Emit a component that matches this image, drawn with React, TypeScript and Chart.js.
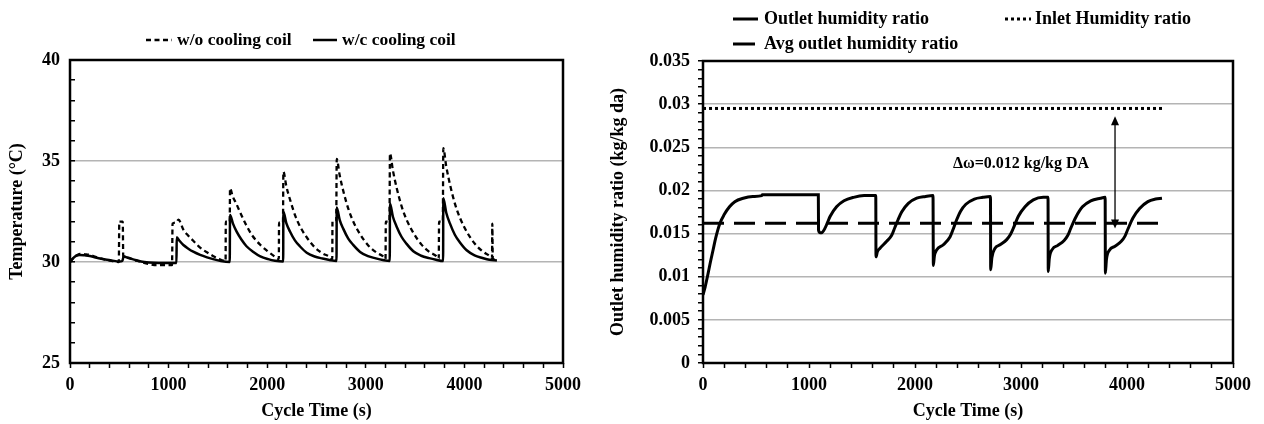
import React, { useEffect, useRef } from 'react';
import { Chart, registerables } from 'chart.js';

Chart.register(...registerables);

const FONT = "'Liberation Serif', 'Times New Roman', serif";
const GRID = '#b4b4b4';

// ---------- Left chart: temperature ----------
const woTime = [
  0, 25, 60, 100, 150, 200, 260, 330, 420, 495, 500, 535, 540, 580, 650, 720, 800, 880, 960, 1035,
  1040, 1075, 1100, 1150, 1200, 1250, 1300, 1350, 1400, 1450, 1500, 1578,
  1580, 1620, 1623, 1650, 1690, 1740, 1790, 1850, 1930, 2000, 2060, 2118,
  2120, 2160, 2164, 2194, 2234, 2284, 2334, 2404, 2484, 2564, 2634, 2660,
  2662, 2700, 2705, 2735, 2775, 2825, 2875, 2945, 3025, 3105, 3175, 3200,
  3203, 3240, 3245, 3275, 3315, 3365, 3415, 3485, 3565, 3645, 3715, 3740,
  3743, 3781, 3786, 3816, 3856, 3906, 3956, 4026, 4106, 4186, 4256, 4280,
  4283, 4288, 4327,
];
const woTemp = [
  30.0, 30.15, 30.3, 30.4, 30.38, 30.35, 30.25, 30.15, 30.05, 30.0, 32.0, 32.0, 30.25, 30.2, 30.1, 30.0, 29.9, 29.85, 29.85, 29.85,
  31.9, 31.95, 32.1, 31.6, 31.3, 31.05, 30.8, 30.6, 30.45, 30.3, 30.18, 30.05,
  32.0, 32.0, 33.65, 33.25, 32.85, 32.3, 31.8, 31.3, 30.85, 30.55, 30.33, 30.15,
  31.95, 31.95, 34.47, 33.75, 33.05, 32.3, 31.75, 31.2, 30.72, 30.42, 30.26, 30.15,
  32.0, 32.0, 35.1, 34.3, 33.45, 32.6, 31.98, 31.35, 30.82, 30.48, 30.28, 30.15,
  32.0, 32.0, 35.38, 34.53, 33.63, 32.73, 32.08, 31.42, 30.86, 30.5, 30.29, 30.15,
  32.0, 32.0, 35.63, 34.73, 33.79, 32.85, 32.17, 31.48, 30.9, 30.52, 30.3, 30.18,
  31.9, 30.18, 30.1,
];
const wcTime = [
  0, 25, 60, 100, 150, 200, 260, 330, 420, 500, 530, 545, 580, 650, 720, 800, 900, 1000, 1080,
  1082, 1110, 1150, 1200, 1250, 1320, 1390, 1460, 1530, 1620,
  1623, 1653, 1690, 1740, 1790, 1860, 1930, 2010, 2080, 2162,
  2164, 2194, 2231, 2281, 2331, 2401, 2481, 2561, 2631, 2703,
  2705, 2735, 2772, 2822, 2872, 2942, 3022, 3102, 3172, 3243,
  3245, 3275, 3312, 3362, 3412, 3482, 3562, 3642, 3712, 3784,
  3786, 3816, 3853, 3903, 3953, 4023, 4103, 4183, 4253, 4330,
];
const wcTemp = [
  30.0, 30.15, 30.3, 30.35, 30.33, 30.3, 30.22, 30.15, 30.08, 30.02, 30.05, 30.28, 30.22, 30.12, 30.02, 29.97, 29.95, 29.95, 29.95,
  31.22, 31.05, 30.84, 30.66, 30.51, 30.35, 30.23, 30.13, 30.05, 30.0,
  32.33, 31.9, 31.5, 31.1, 30.78, 30.5, 30.28, 30.14, 30.06, 30.02,
  32.49, 31.93, 31.51, 31.07, 30.78, 30.46, 30.27, 30.17, 30.1, 30.05,
  32.7, 32.09, 31.64, 31.16, 30.85, 30.5, 30.29, 30.18, 30.1, 30.05,
  32.9, 32.24, 31.76, 31.25, 30.91, 30.53, 30.31, 30.19, 30.11, 30.05,
  33.15, 32.44, 31.91, 31.35, 30.98, 30.58, 30.33, 30.2, 30.11, 30.08,
];
const tempLabels = ['25', '30', '35', '40'];

// ---------- Right chart: humidity ratio ----------
const outTime = [
  0, 20, 45, 70, 95, 120, 160, 200, 250, 300, 380, 470, 555, 560, 1088,
  1090, 1105, 1120, 1150, 1175, 1200, 1260, 1330, 1420, 1520, 1630,
  1632, 1645, 1670, 1733, 1780, 1810, 1840, 1874, 1937, 2016, 2100, 2170,
  2173, 2183, 2204, 2267, 2330, 2360, 2393, 2430, 2480, 2560, 2640, 2712,
  2714, 2725, 2755, 2802, 2865, 2900, 2927, 2975, 3038, 3116, 3210, 3255,
  3257, 3267, 3297, 3344, 3407, 3442, 3469, 3517, 3580, 3658, 3750, 3794,
  3796, 3806, 3836, 3883, 3946, 3981, 4008, 4056, 4119, 4197, 4270, 4330,
];
const outVal = [
  0.0079, 0.0088, 0.0102, 0.0117, 0.0131, 0.0145, 0.0162, 0.0172, 0.0181, 0.0187, 0.0191, 0.0193, 0.0194, 0.0195, 0.0195,
  0.0154, 0.0151, 0.0151, 0.0156, 0.0163, 0.0170, 0.0181, 0.0188, 0.0192, 0.0194, 0.0194,
  0.0123, 0.0129, 0.0133, 0.0141, 0.0148, 0.0157, 0.0166, 0.0175, 0.0185, 0.0191, 0.0193, 0.0194,
  0.0113, 0.0124, 0.0131, 0.0137, 0.0146, 0.0155, 0.0166, 0.0176, 0.0184, 0.0190, 0.0192, 0.0193,
  0.0108, 0.0122, 0.0133, 0.0137, 0.0143, 0.0149, 0.0156, 0.0170, 0.0181, 0.0189, 0.0192, 0.0192,
  0.0106, 0.0121, 0.0132, 0.0136, 0.0142, 0.0148, 0.0156, 0.0169, 0.0181, 0.0188, 0.0191, 0.0192,
  0.0104, 0.0120, 0.0131, 0.0135, 0.0141, 0.0147, 0.0155, 0.0168, 0.0179, 0.0187, 0.0190, 0.0191,
];
const inletTime = [0, 4330];
const inletVal = [0.0295, 0.0295];
const avgTime = [0, 4330];
const avgVal = [0.0162, 0.0162];
const arrowTime = 3887;
const arrowTop = 0.0286;
const arrowBottom = 0.0156;
const deltaText = 'Δω=0.012 kg/kg DA';
const deltaTime = 3000;
const deltaVal = 0.0231;
const timeLabels = ['0', '1000', '2000', '3000', '4000', '5000'];

const pts = (xs: number[], ys: number[]) => xs.map((x, i) => ({ x, y: ys[i] }));

const tickFont = { family: FONT, size: 18, weight: 'bold' as const };
const titleFont = { family: FONT, size: 18, weight: 'bold' as const };

const framePlugin = {
  id: 'frame',
  afterDraw(chart: any) {
    const { ctx, chartArea: a } = chart;
    ctx.save();
    ctx.strokeStyle = '#000';
    ctx.lineWidth = 2.5;
    ctx.strokeRect(a.left, a.top, a.right - a.left, a.bottom - a.top);
    ctx.restore();
  },
};

type LegendItem = { x1: number; x2: number; y: number; dash: number[]; width: number; text: string; tx: number; size: number };

const makeLegend = (items: LegendItem[]) => ({
  id: 'manualLegend',
  afterDraw(chart: any) {
    const ctx = chart.ctx;
    ctx.save();
    items.forEach((it) => {
      ctx.beginPath();
      ctx.setLineDash(it.dash);
      ctx.lineWidth = it.width;
      ctx.strokeStyle = '#000';
      ctx.moveTo(it.x1, it.y);
      ctx.lineTo(it.x2, it.y);
      ctx.stroke();
      ctx.setLineDash([]);
      ctx.fillStyle = '#000';
      ctx.font = `bold ${it.size}px ${FONT}`;
      ctx.textAlign = 'left';
      ctx.textBaseline = 'middle';
      ctx.fillText(it.text, it.tx, it.y);
    });
    ctx.restore();
  },
});

const arrowPlugin = {
  id: 'arrowNote',
  afterDatasetsDraw(chart: any) {
    const { ctx, scales } = chart;
    const x = scales.x.getPixelForValue(arrowTime);
    const yt = scales.y.getPixelForValue(arrowTop);
    const yb = scales.y.getPixelForValue(arrowBottom);
    ctx.save();
    ctx.strokeStyle = '#000';
    ctx.fillStyle = '#000';
    ctx.lineWidth = 1.3;
    ctx.beginPath();
    ctx.moveTo(x, yt + 6);
    ctx.lineTo(x, yb - 6);
    ctx.stroke();
    ctx.beginPath();
    ctx.moveTo(x, yt);
    ctx.lineTo(x - 4, yt + 9);
    ctx.lineTo(x + 4, yt + 9);
    ctx.closePath();
    ctx.fill();
    ctx.beginPath();
    ctx.moveTo(x, yb);
    ctx.lineTo(x - 4, yb - 9);
    ctx.lineTo(x + 4, yb - 9);
    ctx.closePath();
    ctx.fill();
    ctx.font = `bold 16px ${FONT}`;
    ctx.textAlign = 'center';
    ctx.textBaseline = 'middle';
    ctx.fillText(deltaText, scales.x.getPixelForValue(deltaTime), scales.y.getPixelForValue(deltaVal));
    ctx.restore();
  },
};

const xScale = (heightPx: number) => ({
  type: 'linear' as const,
  min: 0,
  max: 5000,
  ticks: {
    stepSize: 200,
    autoSkip: false,
    maxRotation: 0,
    minRotation: 0,
    maxTicksLimit: 100,
    padding: 7,
    color: '#000',
    font: tickFont,
    callback: (v: any) => {
      const s = String(Math.round(Number(v)));
      return timeLabels.includes(s) ? s : '';
    },
  },
  grid: { color: 'rgba(0,0,0,0)', drawTicks: true, tickLength: 5, tickColor: '#000', tickWidth: 1.5 },
  border: { display: false },
  title: { display: true, text: 'Cycle Time (s)', color: '#000', font: titleFont, padding: { top: 0, bottom: 2 } },
  afterFit: (s: any) => {
    s.height = heightPx;
    s.paddingLeft = 0;
    s.paddingRight = 0;
  },
});

function TempChart() {
  const ref = useRef<HTMLCanvasElement>(null);
  useEffect(() => {
    if (!ref.current) return;
    const chart = new Chart(ref.current, {
      type: 'line',
      data: {
        datasets: [
          {
            label: 'w/o cooling coil',
            data: pts(woTime, woTemp),
            borderColor: '#000',
            borderWidth: 2.3,
            borderDash: [5, 3.5],
            pointRadius: 0,
            fill: false,
            cubicInterpolationMode: 'monotone',
          },
          {
            label: 'w/c cooling coil',
            data: pts(wcTime, wcTemp),
            borderColor: '#000',
            borderWidth: 2.5,
            pointRadius: 0,
            fill: false,
            cubicInterpolationMode: 'monotone',
          },
        ],
      },
      options: {
        responsive: false,
        maintainAspectRatio: false,
        animation: false,
        devicePixelRatio: 1,
        layout: { padding: { left: 0, right: 37, top: 60, bottom: 0 } },
        plugins: { legend: { display: false }, tooltip: { enabled: false } },
        scales: {
          x: xScale(61),
          y: {
            type: 'linear',
            min: 25,
            max: 40,
            ticks: {
              stepSize: 1,
              autoSkip: false,
              maxTicksLimit: 100,
              padding: 15,
              color: '#000',
              font: tickFont,
              callback: (v: any) => {
                const s = String(Math.round(Number(v)));
                return tempLabels.includes(s) ? s : '';
              },
            },
            grid: {
              color: (c: any) =>
                c.tick && (Math.round(c.tick.value) === 30 || Math.round(c.tick.value) === 35) ? GRID : 'rgba(0,0,0,0)',
              lineWidth: 1.5,
              drawTicks: true,
              tickLength: -5,
              tickColor: '#000',
              tickWidth: 1.5,
            },
            border: { display: false },
            title: { display: true, text: 'Temperature (°C)', color: '#000', font: titleFont, padding: { top: 7, bottom: 0 } },
            afterFit: (s: any) => {
              s.width = 70;
              s.paddingTop = 0;
              s.paddingBottom = 0;
            },
          },
        },
      } as any,
      plugins: [
        framePlugin,
        makeLegend([
          { x1: 146, x2: 172, y: 40, dash: [5, 3.5], width: 2.5, text: 'w/o cooling coil', tx: 177, size: 17.5 },
          { x1: 313, x2: 337, y: 40, dash: [], width: 2.5, text: 'w/c cooling coil', tx: 342, size: 17.5 },
        ]),
      ],
    });
    return () => chart.destroy();
  }, []);
  return <canvas ref={ref} width={600} height={424} style={{ position: 'absolute', left: 0, top: 0, width: 600, height: 424 }} />;
}

function HumidityChart() {
  const ref = useRef<HTMLCanvasElement>(null);
  useEffect(() => {
    if (!ref.current) return;
    const isMajor = (v: number) => Math.round(v * 1000) % 5 === 0;
    const chart = new Chart(ref.current, {
      type: 'line',
      data: {
        datasets: [
          {
            label: 'Inlet Humidity ratio',
            data: pts(inletTime, inletVal),
            borderColor: '#000',
            borderWidth: 3,
            borderDash: [3, 3],
            pointRadius: 0,
            fill: false,
          },
          {
            label: 'Avg outlet humidity ratio',
            data: pts(avgTime, avgVal),
            borderColor: '#000',
            borderWidth: 3,
            borderDash: [21, 10],
            pointRadius: 0,
            fill: false,
          },
          {
            label: 'Outlet humidity ratio',
            data: pts(outTime, outVal),
            borderColor: '#000',
            borderWidth: 3,
            pointRadius: 0,
            fill: false,
            cubicInterpolationMode: 'monotone',
          },
        ],
      },
      options: {
        responsive: false,
        maintainAspectRatio: false,
        animation: false,
        devicePixelRatio: 1,
        layout: { padding: { left: 0, right: 31, top: 61, bottom: 0 } },
        plugins: { legend: { display: false }, tooltip: { enabled: false } },
        scales: {
          x: xScale(61),
          y: {
            type: 'linear',
            min: 0,
            max: 0.035,
            ticks: {
              stepSize: 0.001,
              autoSkip: false,
              maxTicksLimit: 100,
              padding: 8,
              color: '#000',
              font: tickFont,
              callback: (v: any) => (isMajor(Number(v)) ? String(Math.round(Number(v) * 1000) / 1000) : ''),
            },
            grid: {
              color: (c: any) => {
                if (!c.tick) return 'rgba(0,0,0,0)';
                const m = Math.round(c.tick.value * 1000);
                return m % 5 === 0 && m !== 0 && m !== 35 ? GRID : 'rgba(0,0,0,0)';
              },
              lineWidth: 1.5,
              drawTicks: true,
              tickLength: 5,
              tickColor: '#000',
              tickWidth: 1.5,
            },
            border: { display: false },
            title: {
              display: true,
              text: 'Outlet humidity ratio (kg/kg da)',
              color: '#000',
              font: titleFont,
              padding: { top: 8, bottom: 0 },
            },
            afterFit: (s: any) => {
              s.width = 103;
              s.paddingTop = 0;
              s.paddingBottom = 0;
            },
          },
        },
      } as any,
      plugins: [
        framePlugin,
        arrowPlugin,
        makeLegend([
          { x1: 133, x2: 158, y: 19, dash: [], width: 3, text: 'Outlet humidity ratio', tx: 164, size: 18 },
          { x1: 405, x2: 431, y: 19, dash: [3, 3], width: 3, text: 'Inlet Humidity ratio', tx: 435, size: 18 },
          { x1: 133, x2: 158, y: 44, dash: [22, 8], width: 3, text: 'Avg outlet humidity ratio', tx: 164, size: 18 },
        ]),
      ],
    });
    return () => chart.destroy();
  }, []);
  return <canvas ref={ref} width={664} height={424} style={{ position: 'absolute', left: 600, top: 0, width: 664, height: 424 }} />;
}

export default function App() {
  return (
    <div style={{ position: 'absolute', left: 0, top: 0, width: 1264, height: 424, background: '#fff', overflow: 'hidden' }}>
      <TempChart />
      <HumidityChart />
    </div>
  );
}
